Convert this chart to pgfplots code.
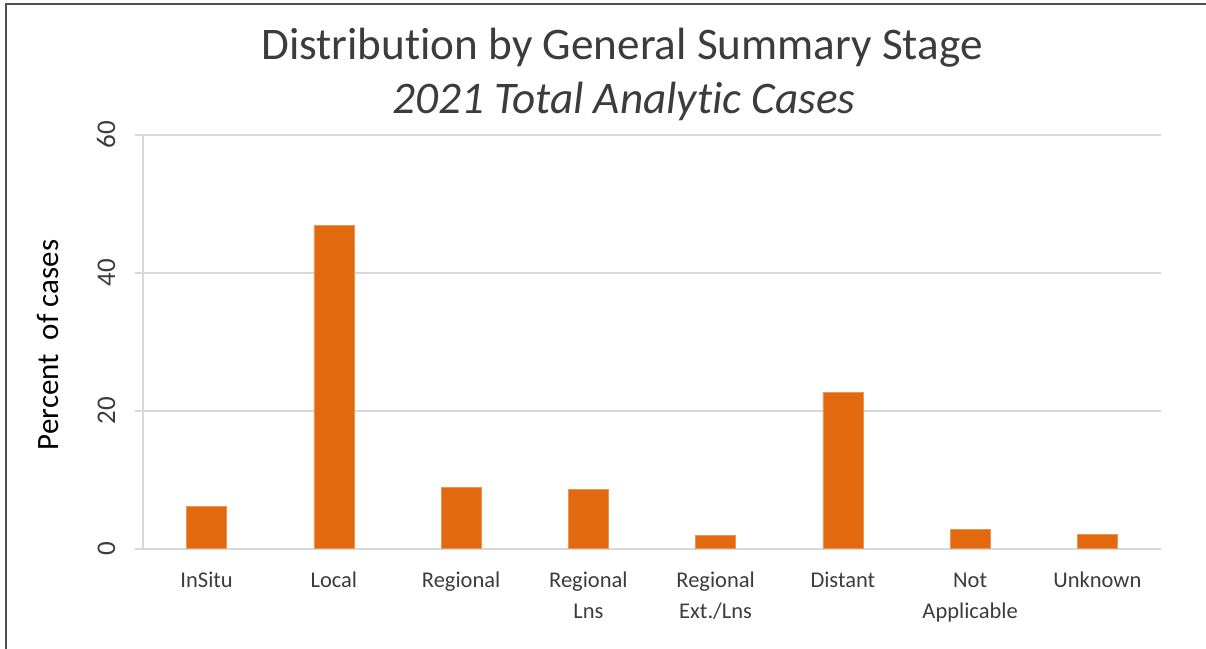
\documentclass[border=0pt]{standalone}
\usepackage{pgfplots}
\pgfplotsset{compat=1.18}
\usepackage{fontspec}
\setmainfont{Carlito}[Ligatures=NoCommon]
\definecolor{barorange}{RGB}{227,105,14}
\definecolor{gridgray}{RGB}{217,217,217}
\definecolor{txtgray}{RGB}{60,60,60}
\begin{document}
\begin{tikzpicture}
\useasboundingbox (-71.5bp,-50.25bp) rectangle (531.5bp,274.25bp);
\begin{axis}[
  scale only axis,
  width=509bp, height=206.75bp,
  xmin=-0.5, xmax=7.5,
  ymin=0, ymax=60,
  ytick={0,20,40,60},
  xtick={0,1,2,3,4,5,6,7},
  xticklabels={InSitu,Local,Regional,{Regional\\Lns},{Regional\\Ext./Lns},Distant,{Not\\Applicable},Unknown},
  axis x line*=bottom,
  axis y line*=left,
  axis line style={draw=gridgray, line width=1bp},
  ymajorgrids,
  grid style={draw=gridgray, line width=1bp},
  x tick style={draw=none},
  ytick style={draw=gridgray, line width=1bp},
  tick align=outside,
  major tick length=4bp,
  xticklabel style={font=\fontsize{11.25bp}{15.5bp}\selectfont, text=txtgray, align=center, anchor=north, yshift=-1bp},
  typeset ticklabels with strut,
  yticklabel style={font=\fontsize{13.5bp}{14bp}\selectfont, text=txtgray, rotate=90, anchor=south, inner sep=0pt},
  yticklabel shift=5.5bp,
  /pgf/number format/assume math mode=true,
  clip=false,
]
\addplot[ybar, bar width=20bp, fill=barorange, draw=barorange!70!white, line width=0.3bp]
  coordinates {(0,6.1) (1,46.9) (2,8.9) (3,8.6) (4,1.9) (5,22.7) (6,2.8) (7,2.0)};
\end{axis}
\draw[line width=0.75bp, draw={rgb,255:red,80;green,80;blue,80}] (-68.5bp,-50.25bp) -- (-68.5bp,272.25bp) -- (531.5bp,272.25bp);
\node[font=\fontsize{15.5bp}{16bp}\selectfont, text=black, rotate=90] at (-47.5bp,101.75bp) {Percent\ \ of cases};
\node[font=\fontsize{22.6bp}{26bp}\selectfont, text=txtgray] at (239.5bp,250.25bp) {Distribution by General Summary Stage};
\node[font=\fontsize{22.6bp}{26bp}\selectfont\itshape, text=txtgray] at (240.5bp,223.75bp) {2021 Total Analytic Cases};
\end{tikzpicture}
\end{document}
